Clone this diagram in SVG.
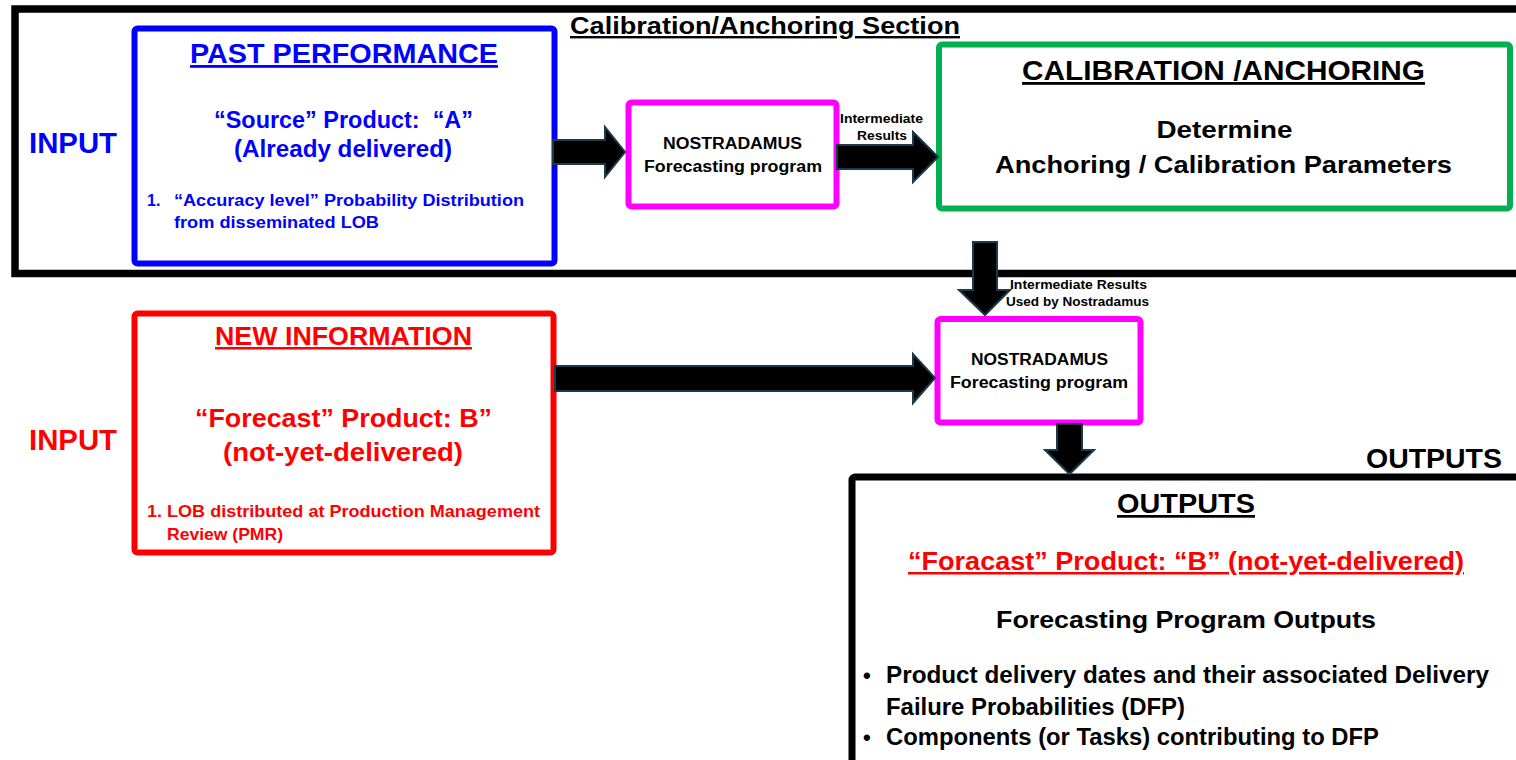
<svg xmlns="http://www.w3.org/2000/svg" width="1516" height="760" viewBox="0 0 1516 760">
<style>
text{font-family:"Liberation Sans",Arial,sans-serif;font-weight:bold;}
.blue{fill:#0000FF;}
.red{fill:#FF0000;}
.blk{fill:#000;}
.u{text-decoration:underline;}
.mid{text-anchor:middle;}
.arrow{fill:#000;stroke:#1b3a4b;stroke-width:2;stroke-linejoin:miter;}
</style>
<rect width="1516" height="760" fill="#fff"/>

<g id="calibration-section">
<rect x="15" y="9" width="1530" height="264.5" fill="none" stroke="#000" stroke-width="7.5"/>
<text x="570" y="34" font-size="24" textLength="390" lengthAdjust="spacingAndGlyphs" class="blk u">Calibration/Anchoring Section</text>
</g>

<g id="input-label-1">
<text x="29" y="153" font-size="29" textLength="88" lengthAdjust="spacingAndGlyphs" class="blue">INPUT</text>
</g>
<g id="input-label-2">
<text x="29" y="450" font-size="29" textLength="88" lengthAdjust="spacingAndGlyphs" class="red">INPUT</text>
</g>

<g id="past-performance">
<rect x="134.5" y="28.5" width="420" height="235" rx="3" fill="#fff" stroke="#0000FF" stroke-width="6"/>
<text x="344" y="63" font-size="28" textLength="308" lengthAdjust="spacingAndGlyphs" class="blue u mid">PAST PERFORMANCE</text>
<text x="343.5" y="128" font-size="23" textLength="259" lengthAdjust="spacingAndGlyphs" class="blue mid">“Source” Product:&#160; “A”</text>
<text x="343" y="157" font-size="23" textLength="218" lengthAdjust="spacingAndGlyphs" class="blue mid">(Already delivered)</text>
<text x="147" y="206" font-size="16" class="blue">1.</text>
<text x="174" y="206" font-size="16" textLength="350" lengthAdjust="spacingAndGlyphs" class="blue">“Accuracy level” Probability Distribution</text>
<text x="174" y="228" font-size="16" textLength="205" lengthAdjust="spacingAndGlyphs" class="blue">from disseminated LOB</text>
</g>

<g id="nostradamus-1">
<rect x="628.5" y="102.5" width="208" height="104" rx="3" fill="#fff" stroke="#FF00FF" stroke-width="6"/>
<text x="732.5" y="149" font-size="16" textLength="139" lengthAdjust="spacingAndGlyphs" class="blk mid">NOSTRADAMUS</text>
<text x="733" y="172" font-size="16" textLength="178" lengthAdjust="spacingAndGlyphs" class="blk mid">Forecasting program</text>
</g>

<g id="calibration-anchoring">
<rect x="939" y="44.5" width="571" height="164" rx="3" fill="#fff" stroke="#00B050" stroke-width="6"/>
<text x="1223.5" y="80" font-size="28" textLength="403" lengthAdjust="spacingAndGlyphs" class="blk u mid">CALIBRATION /ANCHORING</text>
<text x="1224.5" y="138" font-size="24" textLength="136" lengthAdjust="spacingAndGlyphs" class="blk mid">Determine</text>
<text x="1223.5" y="173" font-size="24" textLength="457" lengthAdjust="spacingAndGlyphs" class="blk mid">Anchoring / Calibration Parameters</text>
</g>

<g id="new-information">
<rect x="134.5" y="313.5" width="419" height="239" rx="3" fill="#fff" stroke="#FF0000" stroke-width="6"/>
<text x="343.5" y="345" font-size="25" textLength="257" lengthAdjust="spacingAndGlyphs" class="red u mid">NEW INFORMATION</text>
<text x="343.5" y="427" font-size="26" textLength="297" lengthAdjust="spacingAndGlyphs" class="red mid">“Forecast” Product: B”</text>
<text x="343" y="461" font-size="26" textLength="240" lengthAdjust="spacingAndGlyphs" class="red mid">(not-yet-delivered)</text>
<text x="147" y="517" font-size="16.5" textLength="393" lengthAdjust="spacingAndGlyphs" class="red">1. LOB distributed at Production Management</text>
<text x="167" y="540" font-size="16.5" textLength="116" lengthAdjust="spacingAndGlyphs" class="red">Review (PMR)</text>
</g>

<g id="nostradamus-2">
<rect x="937.5" y="319" width="203" height="103.5" rx="3" fill="#fff" stroke="#FF00FF" stroke-width="6"/>
<text x="1039.5" y="365" font-size="16" textLength="137" lengthAdjust="spacingAndGlyphs" class="blk mid">NOSTRADAMUS</text>
<text x="1039" y="388" font-size="16" textLength="178" lengthAdjust="spacingAndGlyphs" class="blk mid">Forecasting program</text>
</g>

<g id="outputs-label">
<text x="1366" y="468" font-size="27" textLength="136" lengthAdjust="spacingAndGlyphs" class="blk">OUTPUTS</text>
</g>

<g id="outputs">
<rect x="852" y="477" width="720" height="320" rx="3" fill="#fff" stroke="#000" stroke-width="7"/>
<text x="1186" y="513" font-size="27" textLength="138" lengthAdjust="spacingAndGlyphs" class="blk u mid">OUTPUTS</text>
<text x="1186" y="570" font-size="25" textLength="556" lengthAdjust="spacingAndGlyphs" class="red u mid">“Foracast” Product: “B” (not-yet-delivered)</text>
<text x="1186" y="628" font-size="24" textLength="380" lengthAdjust="spacingAndGlyphs" class="blk mid">Forecasting Program Outputs</text>
<text x="863" y="683" font-size="22" class="blk">•</text>
<text x="886" y="683" font-size="23" textLength="603" lengthAdjust="spacingAndGlyphs" class="blk">Product delivery dates and their associated Delivery</text>
<text x="886" y="715" font-size="23" textLength="299" lengthAdjust="spacingAndGlyphs" class="blk">Failure Probabilities (DFP)</text>
<text x="863" y="745" font-size="22" class="blk">•</text>
<text x="886" y="745" font-size="23" textLength="493" lengthAdjust="spacingAndGlyphs" class="blk">Components (or Tasks) contributing to DFP</text>
</g>

<g id="connectors">
<path class="arrow" d="M553,140 L605,140 L605,127 L625,152 L605,177 L605,164 L553,164 Z"/>
<path class="arrow" d="M837,145 L913,145 L913,132 L938,157 L913,182 L913,169 L837,169 Z"/>
<text x="881.5" y="123" font-size="12.5" textLength="83" lengthAdjust="spacingAndGlyphs" class="blk mid">Intermediate</text>
<text x="882" y="140" font-size="12.5" textLength="50" lengthAdjust="spacingAndGlyphs" class="blk mid">Results</text>
<path class="arrow" d="M973,242 L997,242 L997,290 L1010,290 L985,315 L959,290 L973,290 Z"/>
<text x="1078.5" y="289" font-size="12.5" textLength="137" lengthAdjust="spacingAndGlyphs" class="blk mid">Intermediate Results</text>
<text x="1077.5" y="306" font-size="12.5" textLength="143" lengthAdjust="spacingAndGlyphs" class="blk mid">Used by Nostradamus</text>
<path class="arrow" d="M555,366 L913,366 L913,354 L935,378 L913,403 L913,391 L555,391 Z"/>
<path class="arrow" d="M1057,424 L1082,424 L1082,450 L1094,450 L1069.5,474 L1045,450 L1057,450 Z"/>
</g>
</svg>
